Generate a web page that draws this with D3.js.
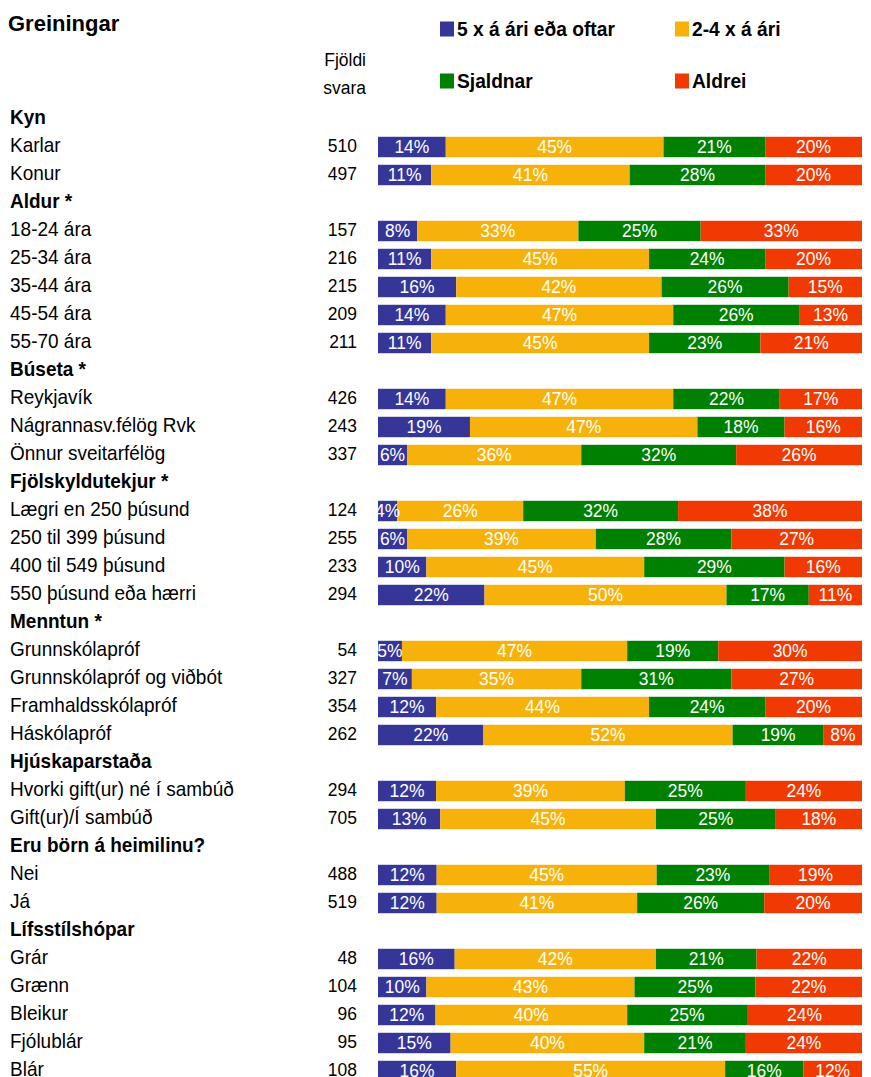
<!DOCTYPE html>
<html>
<head>
<meta charset="utf-8">
<script src="https://cdn.jsdelivr.net/npm/d3@7"></script>
<style>
  html, body { margin: 0; padding: 0; background: #fff; }
  svg { display: block; }
</style>
</head>
<body>
<svg id="chart" width="871" height="1077"></svg>
<script>
// ---------- DATA ----------
const seriesNames = ["5 x á ári eða oftar", "2-4 x á ári", "Sjaldnar", "Aldrei"];
const seriesColors = ["#363699", "#F6B20A", "#008000", "#F03A02"];

// row labels (header rows have count null)
const rowLabels = [
  "Kyn", "Karlar", "Konur",
  "Aldur *", "18-24 ára", "25-34 ára", "35-44 ára", "45-54 ára", "55-70 ára",
  "Búseta *", "Reykjavík", "Nágrannasv.félög Rvk", "Önnur sveitarfélög",
  "Fjölskyldutekjur *", "Lægri en 250 þúsund", "250 til 399 þúsund", "400 til 549 þúsund", "550 þúsund eða hærri",
  "Menntun *", "Grunnskólapróf", "Grunnskólapróf og viðbót", "Framhaldsskólapróf", "Háskólapróf",
  "Hjúskaparstaða", "Hvorki gift(ur) né í sambúð", "Gift(ur)/Í sambúð",
  "Eru börn á heimilinu?", "Nei", "Já",
  "Lífsstílshópar", "Grár", "Grænn", "Bleikur", "Fjólublár", "Blár"
];
const counts = [
  null, 510, 497,
  null, 157, 216, 215, 209, 211,
  null, 426, 243, 337,
  null, 124, 255, 233, 294,
  null, 54, 327, 354, 262,
  null, 294, 705,
  null, 488, 519,
  null, 48, 104, 96, 95, 108
];
const often = [
  null, 14, 11,
  null, 8, 11, 16, 14, 11,
  null, 14, 19, 6,
  null, 4, 6, 10, 22,
  null, 5, 7, 12, 22,
  null, 12, 13,
  null, 12, 12,
  null, 16, 10, 12, 15, 16
];
const twoFour = [
  null, 45, 41,
  null, 33, 45, 42, 47, 45,
  null, 47, 47, 36,
  null, 26, 39, 45, 50,
  null, 47, 35, 44, 52,
  null, 39, 45,
  null, 45, 41,
  null, 42, 43, 40, 40, 55
];
const seldom = [
  null, 21, 28,
  null, 25, 24, 26, 26, 23,
  null, 22, 18, 32,
  null, 32, 28, 29, 17,
  null, 19, 31, 24, 19,
  null, 25, 25,
  null, 23, 26,
  null, 21, 25, 25, 21, 16
];
const never = [
  null, 20, 20,
  null, 33, 20, 15, 13, 21,
  null, 17, 16, 26,
  null, 38, 27, 16, 11,
  null, 30, 27, 20, 8,
  null, 24, 18,
  null, 19, 20,
  null, 22, 22, 24, 24, 12
];
const title = "Greiningar";
const countHeader = ["Fjöldi", "svara"];

// ---------- BUILD ----------
const svg = d3.select("#chart");
const FONT = "'Liberation Sans', Arial, sans-serif";

const rows = rowLabels.map((label, i) => ({
  i, label, count: counts[i], header: counts[i] == null,
  vals: counts[i] == null ? null : [often[i], twoFour[i], seldom[i], never[i]]
}));

const y = d3.scaleBand().domain(rows.map(d => d.i)).range([105, 105 + 28 * rows.length]).paddingInner(0.27).paddingOuter(0.135);
const x = d3.scaleLinear().domain([0, 1]).range([378, 862]);

function txt(g, xPos, yPos, s, opts = {}) {
  const t = g.append("text")
    .attr("transform", `translate(${xPos},${yPos}) scale(${opts.sx ?? 0.92},1)`)
    .attr("font-family", FONT)
    .attr("font-size", opts.size ?? 19)
    .attr("font-weight", opts.bold ? "bold" : "normal")
    .attr("fill", opts.fill ?? "#000")
    .attr("text-anchor", opts.anchor ?? "start")
    .attr("dominant-baseline", "central")
    .text(s);
  return t;
}

// title
txt(svg, 8, 23, title, { bold: true, size: 22, sx: 1.0 });

// count header
txt(svg, 366, 59, countHeader[0], { anchor: "end", size: 19 });
txt(svg, 366, 87, countHeader[1], { anchor: "end", size: 19 });

// legend
const legendPos = [[440, 29], [675, 29], [440, 81], [675, 81]];
const lg = svg.append("g");
seriesNames.forEach((n, k) => {
  const [lx, ly] = legendPos[k];
  lg.append("rect").attr("x", lx).attr("y", ly - 7.5).attr("width", 14).attr("height", 15).attr("fill", seriesColors[k]);
  txt(lg, lx + 17, ly, n, { bold: true, size: 20, sx: 0.96 });
});

// row labels & counts
const lab = svg.append("g");
rows.forEach(d => {
  const cy = y(d.i) + y.bandwidth() / 2 - 2;
  txt(lab, 10, cy, d.label, { bold: d.header, size: 20, sx: 0.95 });
  if (!d.header) txt(lab, 357, cy, d.count, { anchor: "end", size: 19 });
});

// bars
const stackRows = rows.filter(d => !d.header).map(d => {
  const total = d3.sum(d.vals);
  const o = { i: d.i };
  seriesNames.forEach((n, k) => { o[n] = d.vals[k] / total; o["lbl" + k] = d.vals[k]; });
  return o;
});
const stack = d3.stack().keys(seriesNames)(stackRows);

const bars = svg.append("g");
stack.forEach((layer, k) => {
  const g = bars.append("g").attr("fill", seriesColors[k]);
  layer.forEach(seg => {
    g.append("rect")
      .attr("x", x(seg[0]))
      .attr("y", y(seg.data.i))
      .attr("width", x(seg[1]) - x(seg[0]))
      .attr("height", y.bandwidth());
  });
});
const lbls = svg.append("g");
stack.forEach((layer, k) => {
  layer.forEach(seg => {
    const cx = (x(seg[0]) + x(seg[1])) / 2;
    const cy = y(seg.data.i) + y.bandwidth() / 2 - 1;
    txt(lbls, cx, cy, seg.data["lbl" + k] + "%", { anchor: "middle", size: 19, fill: "#fff" });
  });
});
</script>
</body>
</html>
